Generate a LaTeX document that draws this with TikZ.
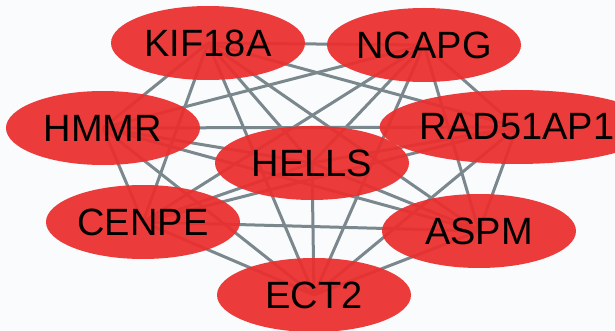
\documentclass[tikz,border=0pt]{standalone}
\usepackage{fontspec}
\setmainfont{Liberation Sans}
\usetikzlibrary{backgrounds,shapes.geometric}
\definecolor{nodered}{RGB}{236,45,45}
\definecolor{edgegray}{RGB}{122,136,142}
\definecolor{bgcol}{RGB}{250,251,253}
\begin{document}
\begin{tikzpicture}[x=1pt,y=-1pt,
  gene/.style={ellipse, fill=nodered, fill opacity=0.93, text opacity=1,
    minimum width=194pt, minimum height=74pt, inner sep=0pt,
    font=\fontsize{38}{40}\selectfont, text=black},
  link/.style={draw=edgegray, line width=3pt}]
\useasboundingbox (0,0) rectangle (615,331);
\node[gene] (hmmr) at (103,128) {HMMR};
\node[gene] (cenpe) at (143,222) {CENPE};
\node[gene] (aspm) at (479,231) {ASPM};
\node[gene] (rad) at (517,127) {RAD51AP1};
\node[gene] (ect) at (314,295) {ECT2};
\node[gene] (kif) at (208,43) {KIF18A};
\node[gene] (ncapg) at (424,45) {NCAPG};
\node[gene] (hells) at (312,163) {HELLS};
\begin{scope}[on background layer]
\fill[bgcol] (0,0) rectangle (615,331);
\foreach \a/\b in {kif/ncapg,kif/hmmr,kif/rad,kif/hells,kif/cenpe,kif/aspm,kif/ect,
  ncapg/hmmr,ncapg/rad,ncapg/hells,ncapg/cenpe,ncapg/aspm,ncapg/ect,
  hmmr/rad,hmmr/hells,hmmr/cenpe,hmmr/aspm,hmmr/ect,
  rad/hells,rad/cenpe,rad/aspm,rad/ect,
  hells/cenpe,hells/aspm,hells/ect,
  cenpe/aspm,cenpe/ect,aspm/ect}
  \draw[link] (\a.center) -- (\b.center);
\end{scope}
\end{tikzpicture}
\end{document}
